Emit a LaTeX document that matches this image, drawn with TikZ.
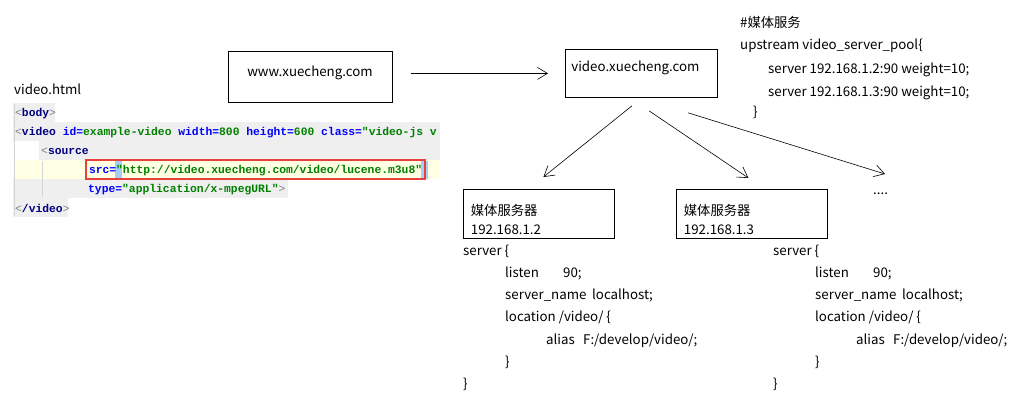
\documentclass[tikz,border=0pt]{standalone}
\usepackage{fontspec}
\setmainfont{Noto Sans CJK SC}
\newfontfamily\codefont{Liberation Mono}
\usetikzlibrary{arrows.meta}

\definecolor{tagblue}{HTML}{000080}
\definecolor{attrblue}{HTML}{0000FF}
\definecolor{valgreen}{HTML}{008000}
\definecolor{brkgray}{HTML}{808080}
\definecolor{rowgray}{HTML}{EFEFEF}
\definecolor{rowyellow}{HTML}{FFFFE4}
\definecolor{bracehl}{HTML}{A6CDF5}
\definecolor{srcred}{HTML}{E8413C}
\definecolor{guidegray}{HTML}{D4D4D4}

% html highlighting
\newcommand{\opentag}[1]{\textcolor{brkgray}{\mdseries<}\textcolor{tagblue}{#1}}
\newcommand{\closebrk}{\textcolor{brkgray}{\mdseries>}}
\newcommand{\attrname}[1]{\textcolor{attrblue}{#1}}
\newcommand{\attrval}[1]{\textcolor{valgreen}{#1}}

\tikzset{
  box/.style={draw=black, line width=0.8pt},
  txt/.style={font=\fontsize{13.3}{19}\selectfont, inner sep=0pt, anchor=base west},
  code/.style={font=\codefont\bfseries\fontsize{11.33}{13}\selectfont, inner sep=0pt, anchor=base west},
  arr/.style={-{Straight Barb[length=10pt,width=12pt]}, line width=0.6pt},
  guide/.style={draw=guidegray, line width=0.6pt}
}

\begin{document}
\begin{tikzpicture}[x=1pt,y=-1pt]
\useasboundingbox (0,0) rectangle (1022,414);

% html source
\node[txt] (html) at (14,95) {video.html};
\begin{scope}
\clip (12,100) rectangle (440,220);
\fill[rowgray] (13,103) rectangle (55,122);
\fill[rowgray] (13,122) rectangle (440,141);
\fill[rowgray] (39,141) rectangle (440,160);
\fill[rowyellow] (13,160) rectangle (440,179);
\fill[rowgray] (13,179) rectangle (288,198);
\fill[rowgray] (13,198) rectangle (68,217);
\fill[bracehl] (115,161) rectangle (122,179);
\fill[bracehl] (421,161) rectangle (428,179);
\draw[guide] (14,104) -- (14,216);
\draw[guide] (42,161) -- (42,197);
\node[code] (body) at (15,117) {\opentag{body}\closebrk};
\node[code] (vtag) at (15,136) {\opentag{video} \attrname{id=}\attrval{example-video} \attrname{width=}\attrval{800} \attrname{height=}\attrval{600} \attrname{class=}\attrval{"video-js v}};
\node[code] (source) at (41,155) {\opentag{source}};
\node[code, draw=srcred, line width=2pt, inner xsep=3pt, text height=14pt, text depth=5pt] (src) at (85,174) {\attrname{src=}\attrval{"http://video.xuecheng.com/video/lucene.m3u8"}};
\node[code] (type) at (88,193) {\attrname{type=}\attrval{"application/x-mpegURL"}\closebrk};
\node[code] (vend) at (15,212) {\opentag{/video}\closebrk};
\end{scope}

% domains
\node[box, minimum width=164pt, minimum height=51pt, text height=8pt, text depth=7pt, font=\fontsize{13.3}{19}\selectfont] (www) at (310,76.5) {www.xuecheng.com};
\node[box, anchor=north west, text width=140pt, inner xsep=6pt, inner ysep=0pt, text height=22pt, text depth=26pt, font=\fontsize{13.3}{19}\selectfont] (video) at (565,49) {video.xuecheng.com};
\draw[arr, shorten <=19pt, shorten >=17pt] (www.east |- video.west) -- (video.west);

% upstream
\node[txt] (up0) at (740,28) {\#媒体服务};
\node[txt] (up1) at (740,50) {upstream video\_server\_pool\{};
\node[txt] (up2) at (768,74) {server 192.168.1.2:90 weight=10;};
\node[txt] (up3) at (768,97) {server 192.168.1.3:90 weight=10;};
\node[txt] (up4) at (753,117) {\}};

% media servers
\node[box, anchor=north west, text width=136pt, inner xsep=7.5pt, inner ysep=0pt, text height=26pt, text depth=23pt, align=left, font=\fontsize{13.3}{19}\selectfont] (srv1) at (463,189) {媒体服务器\\192.168.1.2};
\node[box, anchor=north west, text width=136pt, inner xsep=7.5pt, inner ysep=0pt, text height=26pt, text depth=23pt, align=left, font=\fontsize{13.3}{19}\selectfont] (srv2) at (676,189) {媒体服务器\\192.168.1.3};
\node[txt] (more) at (873,195) {....};
\coordinate (moretip) at (885,174);

\draw[arr] ([xshift=67pt,yshift=-8pt]video.south west) -- ([xshift=4.5pt,yshift=12pt]srv1.north);
\draw[arr] ([xshift=84pt,yshift=-13pt]video.south west) -- ([xshift=-3.5pt,yshift=11pt]srv2.north);
\draw[arr] ([xshift=123pt,yshift=-15pt]video.south west) -- (moretip);

% nginx server blocks
\foreach \bx/\bn in {463/a,773/b}{
  \node[txt] (\bn-1) at (\bx,255) {server \{};
  \node[txt] (\bn-2) at (\bx+42,277.3) {\makebox[58pt][l]{listen}90;};
  \node[txt] (\bn-3) at (\bx+42,299.6) {\makebox[87pt][l]{server\_name}localhost;};
  \node[txt] (\bn-4) at (\bx+42,321.9) {location /video/ \{};
  \node[txt] (\bn-5) at (\bx+83,344.2) {\makebox[37pt][l]{alias}F:/develop/video/;};
  \node[txt] (\bn-6) at (\bx+42,366.5) {\}};
  \node[txt] (\bn-7) at (\bx,388.8) {\}};
}
\end{tikzpicture}
\end{document}
